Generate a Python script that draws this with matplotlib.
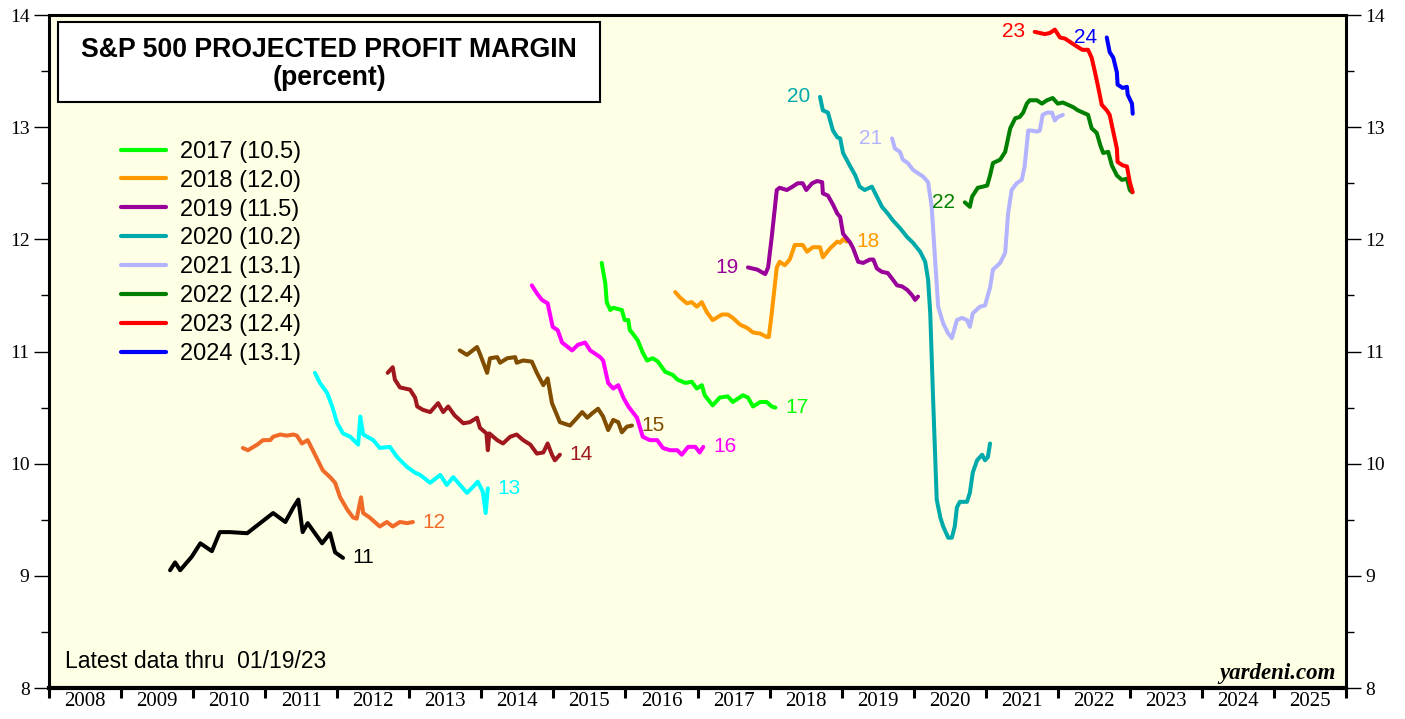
import matplotlib
matplotlib.use("Agg")
import matplotlib.pyplot as plt
from matplotlib.patches import Rectangle
from matplotlib.ticker import MultipleLocator, FixedLocator, NullFormatter

# Forward profit margin for each calendar year (weekly, decimal-year dates)
m11_t = [2009.68, 2009.75, 2009.82, 2009.98, 2010.10, 2010.26, 2010.37, 2010.51, 2010.75, 2010.93,
         2011.11, 2011.28, 2011.39, 2011.46, 2011.52, 2011.59, 2011.79, 2011.90, 2011.97, 2012.08]
m11_v = [9.05, 9.12, 9.05, 9.17, 9.29, 9.22, 9.39, 9.39, 9.38, 9.47,
         9.56, 9.48, 9.61, 9.68, 9.39, 9.47, 9.29, 9.38, 9.21, 9.16]

m12_t = [2010.69, 2010.76, 2010.89, 2010.97, 2011.07, 2011.11, 2011.21, 2011.30, 2011.39, 2011.44,
         2011.51, 2011.59, 2011.66, 2011.80, 2011.90, 2011.97, 2012.04, 2012.14, 2012.22, 2012.27,
         2012.33, 2012.36, 2012.45, 2012.59, 2012.69, 2012.77, 2012.87, 2012.97, 2013.05]
m12_v = [10.14, 10.12, 10.17, 10.21, 10.21, 10.24, 10.26, 10.25, 10.26, 10.25,
         10.18, 10.21, 10.12, 9.94, 9.88, 9.83, 9.70, 9.59, 9.52, 9.51,
         9.70, 9.56, 9.52, 9.44, 9.48, 9.44, 9.48, 9.47, 9.48]

m13_t = [2011.69, 2011.76, 2011.86, 2011.93, 2012.00, 2012.08, 2012.18, 2012.29, 2012.32, 2012.36,
         2012.50, 2012.59, 2012.73, 2012.83, 2012.97, 2013.08, 2013.15, 2013.29, 2013.43, 2013.52,
         2013.61, 2013.80, 2013.88, 2013.95, 2014.02, 2014.06, 2014.09]
m13_v = [10.81, 10.72, 10.63, 10.51, 10.36, 10.27, 10.24, 10.17, 10.42, 10.26,
         10.21, 10.14, 10.15, 10.06, 9.97, 9.92, 9.90, 9.83, 9.90, 9.81,
         9.88, 9.74, 9.79, 9.84, 9.75, 9.56, 9.78]

m14_t = [2012.70, 2012.77, 2012.80, 2012.87, 2013.01, 2013.08, 2013.11, 2013.19, 2013.29, 2013.40,
         2013.47, 2013.54, 2013.63, 2013.75, 2013.84, 2013.94, 2013.98, 2014.07, 2014.09, 2014.11,
         2014.22, 2014.30, 2014.40, 2014.49, 2014.58, 2014.68, 2014.77, 2014.86, 2014.92, 2014.98,
         2015.02, 2015.09]
m14_v = [10.81, 10.86, 10.75, 10.68, 10.66, 10.59, 10.51, 10.48, 10.46, 10.54,
         10.46, 10.51, 10.43, 10.36, 10.37, 10.41, 10.32, 10.27, 10.12, 10.27,
         10.21, 10.18, 10.24, 10.26, 10.21, 10.17, 10.09, 10.10, 10.18, 10.08,
         10.03, 10.08]

m15_t = [2013.70, 2013.80, 2013.94, 2013.98, 2014.08, 2014.12, 2014.22, 2014.26, 2014.36, 2014.47,
         2014.49, 2014.58, 2014.70, 2014.77, 2014.86, 2014.92, 2014.98, 2015.09, 2015.23, 2015.33,
         2015.40, 2015.47, 2015.54, 2015.62, 2015.69, 2015.76, 2015.83, 2015.90, 2015.95, 2016.02,
         2016.09]
m15_v = [11.01, 10.97, 11.04, 10.98, 10.81, 10.94, 10.95, 10.90, 10.94, 10.95,
         10.90, 10.92, 10.91, 10.81, 10.70, 10.76, 10.54, 10.37, 10.34, 10.41,
         10.46, 10.41, 10.45, 10.49, 10.42, 10.30, 10.39, 10.37, 10.28, 10.33,
         10.34]

m16_t = [2014.70, 2014.77, 2014.84, 2014.92, 2014.99, 2015.06, 2015.12, 2015.26, 2015.34, 2015.44,
         2015.51, 2015.65, 2015.69, 2015.76, 2015.83, 2015.90, 2015.97, 2016.04, 2016.16, 2016.24,
         2016.34, 2016.44, 2016.52, 2016.62, 2016.72, 2016.78, 2016.87, 2016.97, 2017.03, 2017.08]
m16_v = [11.59, 11.52, 11.46, 11.43, 11.22, 11.19, 11.08, 11.01, 11.06, 11.08,
         11.01, 10.95, 10.92, 10.72, 10.67, 10.70, 10.59, 10.51, 10.41, 10.24,
         10.21, 10.21, 10.14, 10.12, 10.12, 10.08, 10.15, 10.15, 10.10, 10.15]

m17_t = [2015.67, 2015.72, 2015.74, 2015.79, 2015.83, 2015.95, 2015.99, 2016.04, 2016.06, 2016.09,
         2016.17, 2016.24, 2016.30, 2016.38, 2016.45, 2016.55, 2016.66, 2016.72, 2016.83, 2016.92,
         2016.99, 2017.06, 2017.10, 2017.21, 2017.31, 2017.42, 2017.49, 2017.63, 2017.70, 2017.77,
         2017.87, 2017.96, 2018.03, 2018.08]
m17_v = [11.79, 11.61, 11.44, 11.37, 11.39, 11.37, 11.28, 11.28, 11.19, 11.17,
         11.10, 10.99, 10.92, 10.94, 10.91, 10.82, 10.79, 10.75, 10.72, 10.73,
         10.67, 10.70, 10.61, 10.52, 10.59, 10.60, 10.55, 10.61, 10.59, 10.51,
         10.55, 10.55, 10.51, 10.50]

m18_t = [2016.69, 2016.76, 2016.85, 2016.92, 2016.99, 2017.06, 2017.13, 2017.21, 2017.34, 2017.42,
         2017.49, 2017.59, 2017.69, 2017.77, 2017.87, 2017.96, 2017.99, 2018.03, 2018.10, 2018.14,
         2018.21, 2018.28, 2018.35, 2018.46, 2018.52, 2018.60, 2018.70, 2018.74, 2018.84, 2018.94,
         2018.98, 2019.02, 2019.07]
m18_v = [11.53, 11.48, 11.43, 11.44, 11.40, 11.44, 11.35, 11.28, 11.33, 11.33,
         11.30, 11.24, 11.21, 11.17, 11.16, 11.13, 11.13, 11.34, 11.75, 11.80,
         11.77, 11.82, 11.95, 11.95, 11.89, 11.93, 11.93, 11.84, 11.92, 11.98,
         11.97, 12.00, 11.98]

m19_t = [2017.70, 2017.83, 2017.94, 2017.98, 2018.03, 2018.10, 2018.14, 2018.24, 2018.32, 2018.39,
         2018.46, 2018.51, 2018.59, 2018.66, 2018.73, 2018.74, 2018.81, 2018.88, 2018.94, 2018.98,
         2019.02, 2019.12, 2019.16, 2019.23, 2019.30, 2019.39, 2019.44, 2019.49, 2019.56, 2019.64,
         2019.70, 2019.77, 2019.84, 2019.91, 2019.98, 2020.02, 2020.06]
m19_v = [11.75, 11.73, 11.69, 11.75, 12.02, 12.44, 12.46, 12.44, 12.47, 12.50,
         12.50, 12.44, 12.50, 12.52, 12.51, 12.41, 12.39, 12.31, 12.23, 12.20,
         12.05, 11.97, 11.92, 11.80, 11.79, 11.82, 11.82, 11.74, 11.71, 11.70,
         11.65, 11.59, 11.58, 11.55, 11.50, 11.46, 11.49]

m20_t = [2018.70, 2018.74, 2018.81, 2018.88, 2018.94, 2018.98, 2019.02, 2019.12, 2019.19, 2019.25,
         2019.32, 2019.42, 2019.49, 2019.56, 2019.64, 2019.71, 2019.81, 2019.91, 2019.99, 2020.09,
         2020.16, 2020.20, 2020.23, 2020.27, 2020.32, 2020.37, 2020.41, 2020.48, 2020.53, 2020.57,
         2020.60, 2020.64, 2020.74, 2020.78, 2020.82, 2020.88, 2020.95, 2020.99, 2021.03, 2021.06]
m20_v = [13.27, 13.15, 13.13, 12.97, 12.91, 12.90, 12.77, 12.65, 12.57, 12.47,
         12.44, 12.47, 12.38, 12.29, 12.23, 12.17, 12.10, 12.02, 11.97, 11.89,
         11.80, 11.64, 11.34, 10.57, 9.68, 9.52, 9.44, 9.34, 9.34, 9.44,
         9.61, 9.66, 9.66, 9.74, 9.92, 10.03, 10.08, 10.03, 10.06, 10.18]

m21_t = [2019.70, 2019.74, 2019.81, 2019.85, 2019.92, 2019.99, 2020.06, 2020.13, 2020.20, 2020.25,
         2020.30, 2020.34, 2020.41, 2020.48, 2020.53, 2020.60, 2020.67, 2020.74, 2020.78, 2020.82,
         2020.92, 2020.99, 2021.06, 2021.10, 2021.20, 2021.27, 2021.31, 2021.36, 2021.43, 2021.50,
         2021.54, 2021.59, 2021.64, 2021.71, 2021.75, 2021.79, 2021.85, 2021.92, 2021.96, 2022.00,
         2022.07]
m21_v = [12.90, 12.81, 12.78, 12.71, 12.68, 12.62, 12.59, 12.56, 12.51, 12.29,
         11.79, 11.40, 11.25, 11.16, 11.12, 11.28, 11.30, 11.28, 11.22, 11.34,
         11.40, 11.41, 11.57, 11.73, 11.79, 11.88, 12.23, 12.44, 12.50, 12.53,
         12.65, 12.97, 12.97, 12.96, 12.97, 13.11, 13.13, 13.13, 13.06, 13.09,
         13.11]

m22_t = [2020.71, 2020.78, 2020.81, 2020.89, 2020.96, 2021.02, 2021.06, 2021.10, 2021.20, 2021.27,
         2021.34, 2021.41, 2021.47, 2021.52, 2021.57, 2021.61, 2021.71, 2021.78, 2021.85, 2021.93,
         2022.00, 2022.07, 2022.14, 2022.21, 2022.28, 2022.35, 2022.42, 2022.47, 2022.54, 2022.59,
         2022.63, 2022.70, 2022.75, 2022.82, 2022.89, 2022.96, 2023.00, 2023.03]
m22_v = [12.33, 12.29, 12.38, 12.46, 12.47, 12.48, 12.57, 12.68, 12.71, 12.78,
         12.99, 13.08, 13.09, 13.13, 13.21, 13.24, 13.24, 13.21, 13.24, 13.26,
         13.21, 13.22, 13.20, 13.18, 13.15, 13.13, 13.11, 12.99, 12.95, 12.84,
         12.77, 12.78, 12.66, 12.57, 12.53, 12.54, 12.44, 12.42]

m23_t = [2021.68, 2021.75, 2021.82, 2021.89, 2021.96, 2022.03, 2022.10, 2022.17, 2022.24, 2022.34,
         2022.42, 2022.47, 2022.52, 2022.56, 2022.61, 2022.68, 2022.72, 2022.77, 2022.82, 2022.83,
         2022.90, 2022.96, 2023.00, 2023.04]
m23_v = [13.85, 13.84, 13.83, 13.84, 13.87, 13.80, 13.79, 13.76, 13.73, 13.69,
         13.69, 13.62, 13.48, 13.36, 13.20, 13.15, 13.11, 12.96, 12.81, 12.69,
         12.66, 12.65, 12.51, 12.42]

m24_t = [2022.68, 2022.72, 2022.77, 2022.82, 2022.83, 2022.90, 2022.96, 2022.97, 2023.03, 2023.04]
m24_v = [13.80, 13.67, 13.62, 13.49, 13.38, 13.35, 13.36, 13.29, 13.21, 13.12]

# (label, colour, dates, values, label on right end?)
series = [
    ("11", "#000000", m11_t, m11_v, True),
    ("12", "#F06A28", m12_t, m12_v, True),
    ("13", "#00FFFF", m13_t, m13_v, True),
    ("14", "#A0181E", m14_t, m14_v, True),
    ("15", "#7F4C00", m15_t, m15_v, True),
    ("16", "#FF00FF", m16_t, m16_v, True),
    ("17", "#00FF00", m17_t, m17_v, True),
    ("18", "#FF9900", m18_t, m18_v, True),
    ("19", "#990099", m19_t, m19_v, False),
    ("20", "#00AAAA", m20_t, m20_v, False),
    ("21", "#B3B3FF", m21_t, m21_v, False),
    ("22", "#008000", m22_t, m22_v, False),
    ("23", "#FF0000", m23_t, m23_v, False),
    ("24", "#0000FF", m24_t, m24_v, False),
]
years = list(range(2008, 2026))

fig = plt.figure(figsize=(14.05, 7.19), dpi=100)
ax = fig.add_axes([0.0349, 0.0431, 0.9231, 0.936])
ax.set_facecolor("#FFFFE6")

handles = []
for name, col, t, v, right in series:
    ln, = ax.plot(t, v, color=col, lw=2.9, solid_capstyle="round", solid_joinstyle="round")
    if right:
        ax.annotate(name, (t[-1], v[-1]), xytext=(7, 0), textcoords="offset points",
                    color=col, fontsize=15, family="Liberation Sans", va="center", ha="left")
    else:
        ax.annotate(name, (t[0], v[0]), xytext=(-7, 0), textcoords="offset points",
                    color=col, fontsize=15, family="Liberation Sans", va="center", ha="right")
    if int(name) >= 17:
        ln.set_label(f"20{name} ({v[-1]:.1f})")
        handles.append(ln)

ax.set_xlim(2008, 2026)
ax.set_ylim(8, 14)

# year boundaries get the tick marks, year midpoints get the labels
ax.xaxis.set_major_locator(FixedLocator(range(2008, 2027)))
ax.xaxis.set_major_formatter(NullFormatter())
ax.xaxis.set_minor_locator(FixedLocator([y + 0.5 for y in years]))
ax.set_xticklabels([str(y) for y in years], minor=True)
ax.tick_params(axis="x", which="major", direction="out", length=7, width=2.2)
ax.tick_params(axis="x", which="minor", length=0, pad=3,
               labelsize=15, labelfontfamily="Liberation Serif")

ax.yaxis.set_major_locator(MultipleLocator(1))
ax.yaxis.set_minor_locator(MultipleLocator(0.5))
ax.tick_params(axis="y", which="both", direction="out", left=True, right=True,
               labelleft=True, labelright=True, width=1.0)
ax.tick_params(axis="y", which="major", length=11, pad=3,
               labelsize=14, labelfontfamily="Liberation Serif")
ax.tick_params(axis="y", which="minor", length=5.5)

for s in ax.spines.values():
    s.set_linewidth(2.2)
ax.spines["bottom"].set_linewidth(3)

# title box
ax.add_patch(Rectangle((0.0069, 0.8707), 0.418, 0.119, transform=ax.transAxes,
                       facecolor="white", edgecolor="black", lw=1.5, zorder=5))
ax.text(0.2159, 0.948, "S&P 500 PROJECTED PROFIT MARGIN", transform=ax.transAxes,
        ha="center", va="center", fontsize=19.2, fontweight="bold",
        family="Liberation Sans", zorder=6)
ax.text(0.2159, 0.906, "(percent)", transform=ax.transAxes,
        ha="center", va="center", fontsize=19.2, fontweight="bold",
        family="Liberation Sans", zorder=6)

leg = ax.legend(handles=handles, loc="upper left", bbox_to_anchor=(0.0555, 0.813),
                frameon=False, prop={"family": "Liberation Sans", "size": 17},
                handlelength=1.9, handletextpad=0.6, labelspacing=0.29,
                borderpad=0, borderaxespad=0)
for h in leg.legend_handles:
    h.set_linewidth(3)

ax.text(0.0125, 0.04, "Latest data thru  01/19/23", transform=ax.transAxes,
        fontsize=16.5, family="Liberation Sans", ha="left", va="center")
ax.text(0.992, 0.022, "yardeni.com", transform=ax.transAxes, fontsize=16.5,
        family="Liberation Serif", fontweight="bold", fontstyle="italic",
        ha="right", va="center")

fig.savefig("out.png", dpi=100)
